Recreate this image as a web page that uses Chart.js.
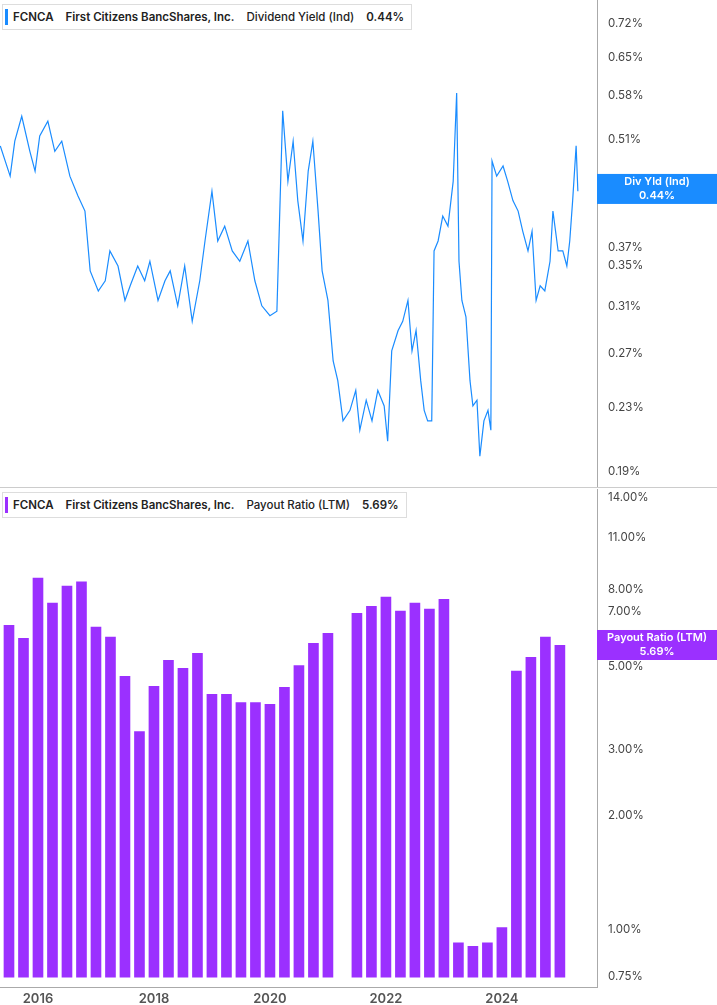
<!DOCTYPE html>
<html><head><meta charset="utf-8">
<script src="https://cdn.jsdelivr.net/npm/chart.js@4/dist/chart.umd.min.js"></script>
<style>
body{margin:0;background:#fff;font-family:Inter,"Open Sans",sans-serif;}
#wrap{position:relative;width:717px;height:1005px;overflow:hidden;}
#clip1{position:absolute;left:0;top:0;width:717px;height:487px;overflow:hidden;}
#c1{position:absolute;left:0;top:-12px;}
#c2{position:absolute;left:0;top:477px;}
#sep{position:absolute;left:0;top:487px;width:717px;height:1px;background:#ccc;}
.leg{position:absolute;left:2px;background:#fff;border:1px solid #ddd;font-size:11.5px;font-weight:600;color:#222;padding:5px 7px 5px 10px;white-space:nowrap;}
.leg i{position:absolute;left:2px;top:4px;bottom:4px;width:3px;}
.leg span{margin-right:12px;}
</style></head><body>
<div id="wrap">
<div id="clip1"><canvas id="c1" width="717" height="513"></canvas></div>
<canvas id="c2" width="717" height="530"></canvas>
<div id="sep"></div>
<div class="leg" style="top:4px"><i style="background:#1a8cff"></i><span>FCNCA</span><span>First Citizens BancShares, Inc.</span><span style="font-weight:500">Dividend Yield (Ind)</span>0.44%</div>
<div class="leg" style="top:492px"><i style="background:#9b30ff"></i><span>FCNCA</span><span>First Citizens BancShares, Inc.</span><span style="font-weight:500">Payout Ratio (LTM)</span>5.69%</div>
</div>
<script>
const yieldDates=[2015.35,2015.52,2015.60,2015.72,2015.86,2015.95,2016.03,2016.17,2016.29,2016.41,2016.55,2016.69,2016.81,2016.90,2017.04,2017.16,2017.24,2017.38,2017.50,2017.59,2017.72,2017.84,2017.93,2018.07,2018.19,2018.28,2018.41,2018.53,2018.66,2018.79,2018.88,2019.00,2019.10,2019.22,2019.35,2019.48,2019.62,2019.74,2019.86,2020.00,2020.12,2020.22,2020.31,2020.40,2020.48,2020.57,2020.66,2020.74,2020.83,2020.90,2021.00,2021.09,2021.17,2021.26,2021.38,2021.48,2021.55,2021.66,2021.76,2021.86,2021.97,2022.03,2022.10,2022.21,2022.29,2022.38,2022.45,2022.52,2022.60,2022.66,2022.72,2022.79,2022.83,2022.90,2022.98,2023.07,2023.16,2023.22,2023.26,2023.31,2023.38,2023.45,2023.50,2023.57,2023.62,2023.69,2023.76,2023.81,2023.83,2023.91,2024.02,2024.10,2024.19,2024.28,2024.36,2024.45,2024.52,2024.59,2024.66,2024.74,2024.83,2024.88,2024.97,2025.05,2025.12,2025.17,2025.22,2025.28,2025.31];
const yieldValues=[0.500,0.457,0.507,0.546,0.492,0.464,0.515,0.538,0.492,0.507,0.457,0.431,0.412,0.345,0.325,0.335,0.366,0.350,0.316,0.330,0.350,0.335,0.355,0.316,0.335,0.345,0.311,0.350,0.297,0.335,0.377,0.437,0.377,0.394,0.366,0.355,0.377,0.335,0.311,0.302,0.306,0.555,0.450,0.507,0.425,0.377,0.464,0.507,0.412,0.345,0.316,0.264,0.249,0.221,0.228,0.242,0.215,0.235,0.221,0.242,0.231,0.208,0.272,0.289,0.297,0.316,0.272,0.289,0.249,0.228,0.221,0.221,0.366,0.377,0.406,0.394,0.450,0.585,0.355,0.316,0.301,0.249,0.231,0.235,0.199,0.221,0.228,0.215,0.478,0.457,0.471,0.450,0.425,0.412,0.388,0.366,0.388,0.316,0.330,0.325,0.355,0.412,0.366,0.366,0.350,0.377,0.425,0.500,0.437];
const payoutDates=[];for(let i=0;i<39;i++)payoutDates.push(2015.5+i*0.25);
const payoutValues=[6.42,5.93,8.57,7.35,8.16,8.37,6.35,5.97,4.70,3.35,4.42,5.18,4.93,5.41,4.21,4.21,4.00,4.00,3.96,4.39,5.02,5.75,6.11,null,6.91,7.21,7.63,7.00,7.35,7.09,7.53,0.92,0.90,0.92,1.01,4.85,5.28,5.97,5.68];
const yieldTicks=[0.19,0.23,0.27,0.31,0.35,0.37,0.44,0.51,0.58,0.65,0.72];
const payoutTicks=[0.75,1,2,3,5,7,8,11,14];
const yearTicks=[2016,2018,2020,2022,2024];
const X0=2015.345,X1=2025.64;
const tickFont={family:'Inter',size:11.5};

function badge(color,l1,l2,val){return{id:'badge',afterDraw(ch){const c=ch.ctx,y=ch.scales.y.getPixelForValue(val),x=ch.chartArea.right;
c.save();c.fillStyle=color;c.fillRect(x,y-15,717-x,30);c.fillStyle='#fff';c.font='600 11px Inter';c.textAlign='center';c.textBaseline='middle';
c.fillText(l1,x+60,y-7);c.fillText(l2,x+60,y+7);c.restore();}};}

function yAxis(min,max,ticks,skip){return{type:'logarithmic',position:'right',min,max,
 afterBuildTicks(a){a.ticks=ticks.filter(v=>v!==skip).map(v=>({value:v}));},
 afterFit(a){a.width=120;},
 grid:{display:false,drawTicks:true,tickLength:5,color:'#999'},border:{color:'#aaa'},
 ticks:{font:tickFont,color:'#444',padding:6,callback:v=>v.toFixed(2)+'%'}};}

new Chart(document.getElementById('c1'),{type:'line',
 data:{datasets:[{data:yieldDates.map((d,i)=>({x:d,y:yieldValues[i]})),borderColor:'#1a8cff',borderWidth:1.2,pointRadius:0,tension:0}]},
 options:{responsive:false,animation:false,layout:{padding:0},plugins:{legend:{display:false},tooltip:{enabled:false}},
  scales:{x:{type:'linear',min:X0,max:X1,display:false},y:yAxis(0.181,0.769,yieldTicks,0.44)}},
 plugins:[badge('#1a8cff','Div Yld (Ind)','0.44%',0.44)]});

new Chart(document.getElementById('c2'),{type:'bar',
 data:{datasets:[{data:payoutDates.map((d,i)=>({x:d,y:payoutValues[i]})),backgroundColor:'#9b30ff',barThickness:10,base:0.745}]},
 options:{responsive:false,animation:false,layout:{padding:0},plugins:{legend:{display:false},tooltip:{enabled:false}},
  scales:{x:{type:'linear',offset:false,min:X0,max:X1,afterBuildTicks(a){a.ticks=yearTicks.map(v=>({value:v}));},
    grid:{display:false,offset:false,tickLength:4,color:'#999'},border:{color:'#aaa'},
    ticks:{font:{family:'Inter',size:13,weight:'600'},color:'#555',padding:0,callback:v=>String(v)}},
   y:yAxis(0.745,14.7,payoutTicks,null)}},
 plugins:[badge('#9b30ff','Payout Ratio (LTM)','5.69%',5.69)]});
</script></body></html>
